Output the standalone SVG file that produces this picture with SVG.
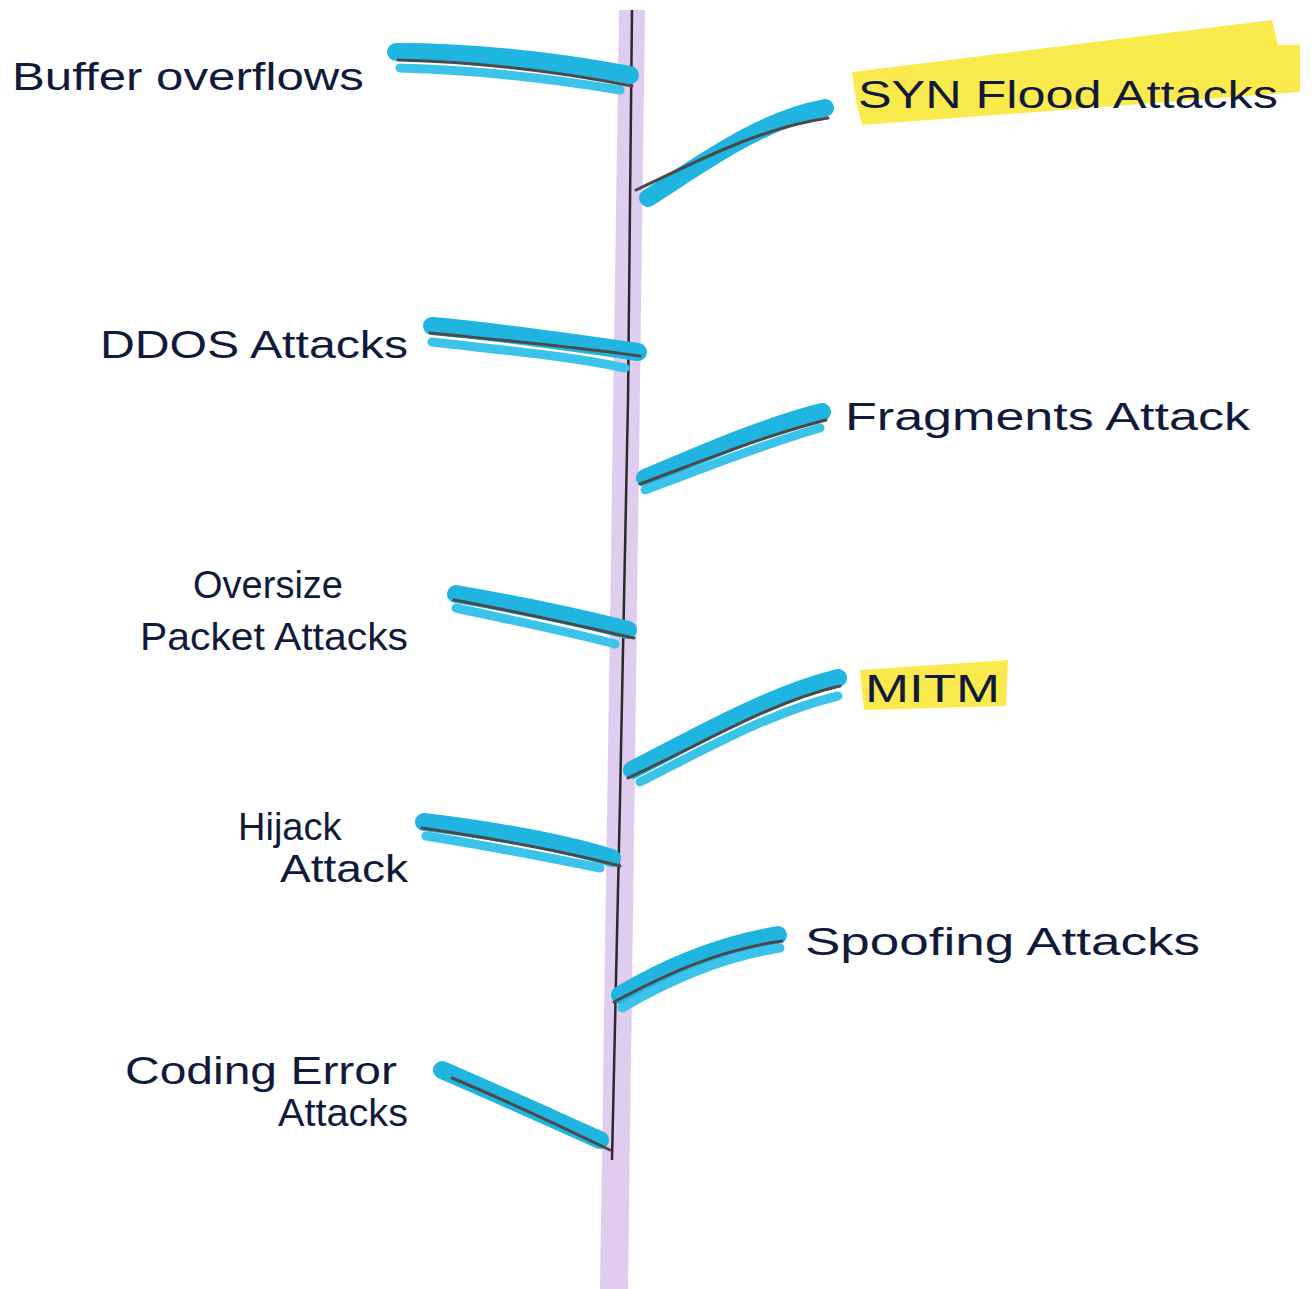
<svg xmlns="http://www.w3.org/2000/svg" width="1316" height="1289" viewBox="0 0 1316 1289">
<style>
.blue{fill:none;stroke:#1fb5e0;stroke-width:18;stroke-linecap:round;stroke-linejoin:round}
.blue2{fill:none;stroke:#3cc3ea;stroke-width:9;stroke-linecap:round}
.ink{fill:none;stroke:#4a4a4a;stroke-width:3;stroke-linecap:round}
.lbl{font-family:"Liberation Sans","DejaVu Sans",sans-serif;font-size:38px;fill:#111a3a}
.hl{fill:#fbe83a;opacity:0.9}
</style>
<rect width="1316" height="1289" fill="#ffffff"/>
<g id="spine">
<polygon points="619,10 645,10 628,1289 600,1289" fill="#dcc6ec" opacity="0.9"/>
<path d="M632,10 L628,400 L620,800 L612,1160" fill="none" stroke="#2a2a2a" stroke-width="2.5"/>
</g>
<g id="connectors">
<path class="blue" d="M396,52 C480,52 560,62 630,75"/>
<path class="blue2" d="M400,68 C480,70 560,80 620,90"/>
<path class="ink" d="M398,60 C480,62 560,72 632,86"/>
<path class="blue" d="M648,198 C700,165 760,120 825,108"/>
<path class="ink" d="M636,190 C700,160 760,128 828,118"/>
<path class="blue" d="M432,326 C500,332 570,342 638,352"/>
<path class="blue2" d="M432,342 C500,350 570,356 625,368"/>
<path class="ink" d="M430,333 C500,340 570,346 640,356"/>
<path class="blue" d="M645,478 C700,455 760,428 822,412"/>
<path class="blue2" d="M645,490 C700,470 760,445 820,428"/>
<path class="ink" d="M640,484 C700,462 760,437 826,420"/>
<path class="blue" d="M456,594 C520,605 580,618 628,630"/>
<path class="blue2" d="M456,608 C520,622 570,632 615,644"/>
<path class="ink" d="M454,600 C520,612 580,626 634,638"/>
<path class="blue" d="M632,770 C700,735 770,695 838,678"/>
<path class="blue2" d="M640,782 C700,752 770,712 838,696"/>
<path class="ink" d="M628,778 C700,745 770,702 840,686"/>
<path class="blue" d="M424,822 C490,830 560,842 612,858"/>
<path class="blue2" d="M426,836 C490,846 550,858 600,868"/>
<path class="ink" d="M422,828 C490,838 560,850 620,866"/>
<path class="blue" d="M620,995 C670,965 720,945 778,935"/>
<path class="blue2" d="M622,1008 C670,980 720,958 780,948"/>
<path class="ink" d="M614,1002 C670,972 720,950 782,941"/>
<path class="blue" d="M442,1070 C500,1095 555,1120 600,1140"/>
<path class="ink" d="M452,1078 C510,1102 560,1126 610,1150"/>
</g>
<g id="n-buffer"><text class="lbl" x="12" y="90" font-size="42" textLength="352" lengthAdjust="spacingAndGlyphs">Buffer overflows</text></g>
<g id="n-syn">
<polygon class="hl" points="852,72 1272,20 1278,45 1300,45 1300,92 862,125 856,100"/>
<text class="lbl" x="858" y="108" textLength="420" lengthAdjust="spacingAndGlyphs">SYN  Flood  Attacks</text>
</g>
<g id="n-ddos"><text class="lbl" x="100" y="358" textLength="308" lengthAdjust="spacingAndGlyphs">DDOS  Attacks</text></g>
<g id="n-frag"><text class="lbl" x="845" y="430" textLength="405" lengthAdjust="spacingAndGlyphs">Fragments Attack</text></g>
<g id="n-oversize"><text class="lbl" text-anchor="middle" x="268" y="598" font-size="34">Oversize</text><text class="lbl" x="140" y="650" font-size="34" textLength="268" lengthAdjust="spacingAndGlyphs">Packet Attacks</text></g>
<g id="n-mitm">
<polygon class="hl" points="860,670 1008,660 1006,706 864,710"/>
<text class="lbl" x="865" y="702" textLength="135" lengthAdjust="spacingAndGlyphs">MITM</text>
</g>
<g id="n-hijack"><text class="lbl" x="238" y="840" font-size="34">Hijack</text><text class="lbl" x="280" y="882" font-size="34" textLength="128" lengthAdjust="spacingAndGlyphs">Attack</text></g>
<g id="n-spoof"><text class="lbl" x="805" y="955" textLength="395" lengthAdjust="spacingAndGlyphs">Spoofing  Attacks</text></g>
<g id="n-coding"><text class="lbl" x="125" y="1084" font-size="36" textLength="272" lengthAdjust="spacingAndGlyphs">Coding  Error</text><text class="lbl" x="278" y="1126" font-size="30" textLength="130" lengthAdjust="spacingAndGlyphs">Attacks</text></g>
</svg>
